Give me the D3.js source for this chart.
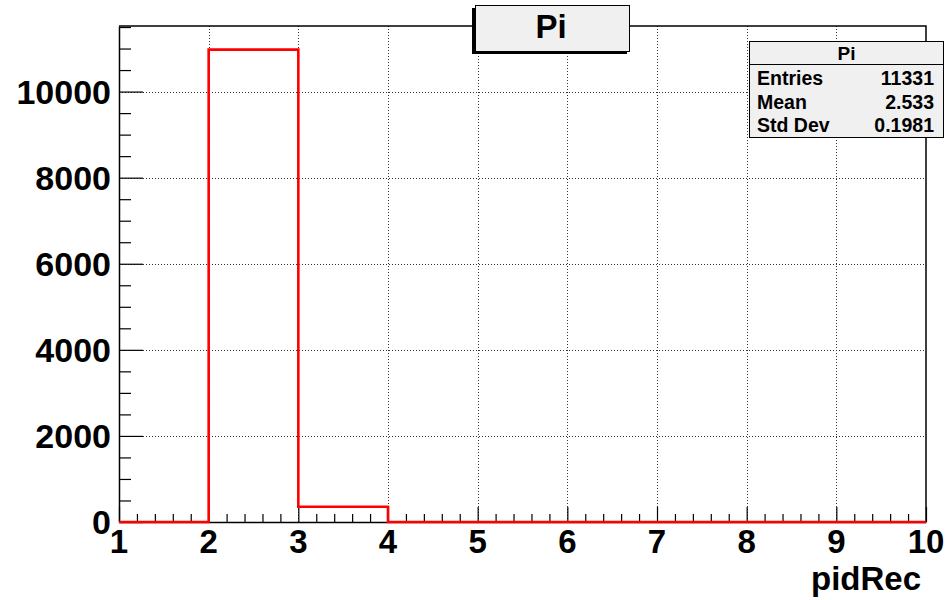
<!DOCTYPE html>
<html>
 <head>
 <title>Pi</title>
 <meta charset="UTF-8">
 <script src="https://d3js.org/d3.v7.min.js"></script>
 <style>
    body { margin: 0; background: #fff; }
    text { font-family: "Liberation Sans", Arial, sans-serif; font-weight: bold; }
 </style>
</head>
 <body>
 <script type="text/javascript">
    // DATA
    var binEdges = [1, 2, 3, 4, 5, 6, 7, 8, 9, 10];
    var counts = [0, 10975, 356, 0, 0, 0, 0, 0, 0];
    var xTicks = [1, 2, 3, 4, 5, 6, 7, 8, 9, 10];
    var yTicks = [0, 2000, 4000, 6000, 8000, 10000];
    var statsLabels = ["Entries", "Mean", "Std Dev"];
    var statsValues = ["11331", "2.533", "0.1981"];
    var histTitle = "Pi";
    var xTitle = "pidRec";

    var W = 950, H = 600;
    var frame = {left: 119, right: 926, top: 26, bottom: 522};

    var svg = d3.select("body").append("svg")
        .attr("width", W)
        .attr("height", H);

    // SCALES
    var x = d3.scaleLinear().domain([1, 10]).range([frame.left, frame.right]);
    var yMax = d3.max(counts) * 1.05;
    var y = d3.scaleLinear().domain([0, yMax]).range([frame.bottom, frame.top]);

    // GRID (dotted)
    svg.append("g").selectAll("line.vg")
        .data(xTicks.filter(function (d) { return d > 1 && d < 10; }))
        .enter().append("line")
        .attr("x1", function (d) { return Math.round(x(d)) + 0.5; })
        .attr("x2", function (d) { return Math.round(x(d)) + 0.5; })
        .attr("y1", frame.top).attr("y2", frame.bottom)
        .attr("stroke", "#333").attr("stroke-width", 1)
        .attr("stroke-dasharray", "1,2");
    svg.append("g").selectAll("line.hg")
        .data(yTicks.filter(function (d) { return d > 0; }))
        .enter().append("line")
        .attr("y1", function (d) { return Math.round(y(d)) + 0.5; })
        .attr("y2", function (d) { return Math.round(y(d)) + 0.5; })
        .attr("x1", frame.left).attr("x2", frame.right)
        .attr("stroke", "#333").attr("stroke-width", 1)
        .attr("stroke-dasharray", "1,2");

    // AXES
    var xAxis = d3.axisBottom(x).tickValues(d3.range(1, 10.001, 0.2))
        .tickSizeInner(-8).tickSizeOuter(0).tickFormat("");
    var gx = svg.append("g")
        .attr("transform", "translate(0," + frame.bottom + ")")
        .call(xAxis);
    gx.selectAll(".tick line")
        .attr("y2", function (d) { return Math.abs(d - Math.round(d)) < 1e-6 ? -15 : -8; })
        .attr("stroke", "#000").attr("stroke-width", 1.2);
    gx.select(".domain").attr("stroke", "#000").attr("stroke-width", 1.5);

    var yAxis = d3.axisLeft(y).tickValues(d3.range(0, yMax, 500))
        .tickSizeInner(-12).tickSizeOuter(0).tickFormat("");
    var gy = svg.append("g")
        .attr("transform", "translate(" + frame.left + ",0)")
        .call(yAxis);
    gy.selectAll(".tick line")
        .attr("x2", function (d) { return d % 2000 === 0 ? 24 : 12; })
        .attr("stroke", "#000").attr("stroke-width", 1.2);
    gy.select(".domain").attr("stroke", "#000").attr("stroke-width", 1.5);

    // FRAME top/right
    svg.append("path")
        .attr("d", "M" + frame.left + "," + frame.top + "H" + frame.right + "V" + frame.bottom)
        .attr("fill", "none").attr("stroke", "#000").attr("stroke-width", 1.5);

    // TICK LABELS
    svg.append("g").selectAll("text")
        .data(xTicks).enter().append("text")
        .attr("x", function (d) { return x(d); })
        .attr("y", 553)
        .attr("text-anchor", "middle")
        .style("font-size", "33px")
        .text(function (d) { return d; });
    svg.append("g").selectAll("text")
        .data(yTicks).enter().append("text")
        .attr("x", 111)
        .attr("y", function (d) { return y(d); })
        .attr("dy", "0.36em")
        .attr("text-anchor", "end")
        .style("font-size", "34px")
        .text(function (d) { return d; });

    // AXIS TITLE
    svg.append("text")
        .attr("x", 921).attr("y", 590)
        .attr("text-anchor", "end")
        .style("font-size", "33px")
        .text(xTitle);

    // HISTOGRAM
    var pts = [[binEdges[0], 0]];
    counts.forEach(function (c, i) {
        pts.push([binEdges[i], c]);
        pts.push([i + 1 < binEdges.length ? binEdges[i + 1] : binEdges[i] + 1, c]);
    });
    pts.push([10, 0]);
    var histLine = d3.line()
        .x(function (d) { return x(d[0]); })
        .y(function (d) { return y(d[1]); });
    svg.append("path")
        .datum(pts)
        .attr("d", histLine)
        .attr("fill", "none")
        .attr("stroke", "#ff0000")
        .attr("stroke-width", 2.6);

    // TITLE BOX (shadow left/bottom)
    svg.append("rect")
        .attr("x", 472).attr("y", 8).attr("width", 155).attr("height", 46)
        .attr("fill", "#000");
    svg.append("rect")
        .attr("x", 475.5).attr("y", 5.5).attr("width", 154).attr("height", 46)
        .attr("fill", "#f0f0f0").attr("stroke", "#000").attr("stroke-width", 1);
    svg.append("text")
        .attr("x", 551).attr("y", 38)
        .attr("text-anchor", "middle")
        .style("font-size", "33px")
        .text(histTitle);

    // STATS BOX
    var sb = {x: 749.5, y: 41.5, w: 194, h: 96};
    svg.append("rect")
        .attr("x", sb.x).attr("y", sb.y).attr("width", sb.w).attr("height", sb.h)
        .attr("fill", "#f0f0f0").attr("stroke", "#000").attr("stroke-width", 1);
    svg.append("line")
        .attr("x1", sb.x).attr("x2", sb.x + sb.w)
        .attr("y1", 64.5).attr("y2", 64.5)
        .attr("stroke", "#000");
    svg.append("text")
        .attr("x", sb.x + sb.w / 2).attr("y", 60)
        .attr("text-anchor", "middle")
        .style("font-size", "19px")
        .text(histTitle);
    var rowY = [85, 109, 132];
    svg.append("g").selectAll("text")
        .data(statsLabels).enter().append("text")
        .attr("x", 757)
        .attr("y", function (d, i) { return rowY[i]; })
        .style("font-size", "19.5px")
        .text(function (d) { return d; });
    svg.append("g").selectAll("text")
        .data(statsValues).enter().append("text")
        .attr("x", 934)
        .attr("y", function (d, i) { return rowY[i]; })
        .attr("text-anchor", "end")
        .style("font-size", "19.5px")
        .text(function (d) { return d; });
 </script>
 </body>
</html>
